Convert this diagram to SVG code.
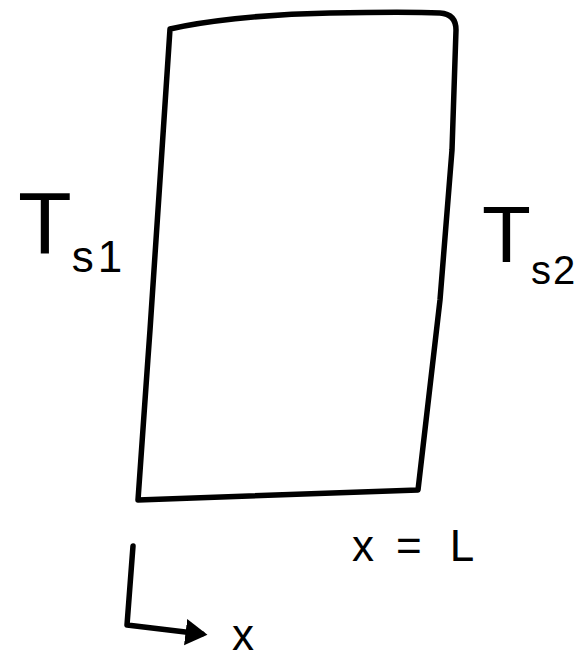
<svg xmlns="http://www.w3.org/2000/svg" width="578" height="658" viewBox="0 0 578 658">
<style>
.ln{fill:none;stroke:#000;stroke-width:5.5;stroke-linecap:round;stroke-linejoin:round}
.t{font-family:"Liberation Sans",Arial,sans-serif;fill:#000}
</style>
<defs>
<marker id="ah" markerWidth="6" markerHeight="6" refX="3" refY="3" orient="auto" markerUnits="strokeWidth">
<path d="M0,0.6 L4,3 L0,5.4 Z" fill="#000"/>
</marker>
</defs>
<rect width="578" height="658" fill="#fff"/>
<g id="slab">
<path class="ln" d="M170,29 C200,22 260,14 330,13 C380,12 420,12 440,13 Q456,14 456,30 L452,150 L440,300 L418,490 L138,500 C139,480 145,400 150,330 L160,180 Z"/>
</g>
<g id="label-ts1">
<text class="t" x="18" y="253" font-size="88">T<tspan font-size="44" dy="19">s</tspan><tspan font-size="44" dx="4">1</tspan></text>
</g>
<g id="label-ts2">
<text class="t" x="482" y="262" font-size="80">T<tspan font-size="40" dy="22">s</tspan><tspan font-size="40" dx="2">2</tspan></text>
</g>
<g id="label-xL">
<text class="t" x="352" y="561" font-size="44"><tspan>x</tspan><tspan dx="22">=</tspan><tspan dx="28">L</tspan></text>
</g>
<g id="connectors">
<path class="ln" d="M133,546 L127,625 L202,634" marker-end="url(#ah)"/>
</g>
<g id="label-x">
<text class="t" x="232" y="650" font-size="44">x</text>
</g>
</svg>
